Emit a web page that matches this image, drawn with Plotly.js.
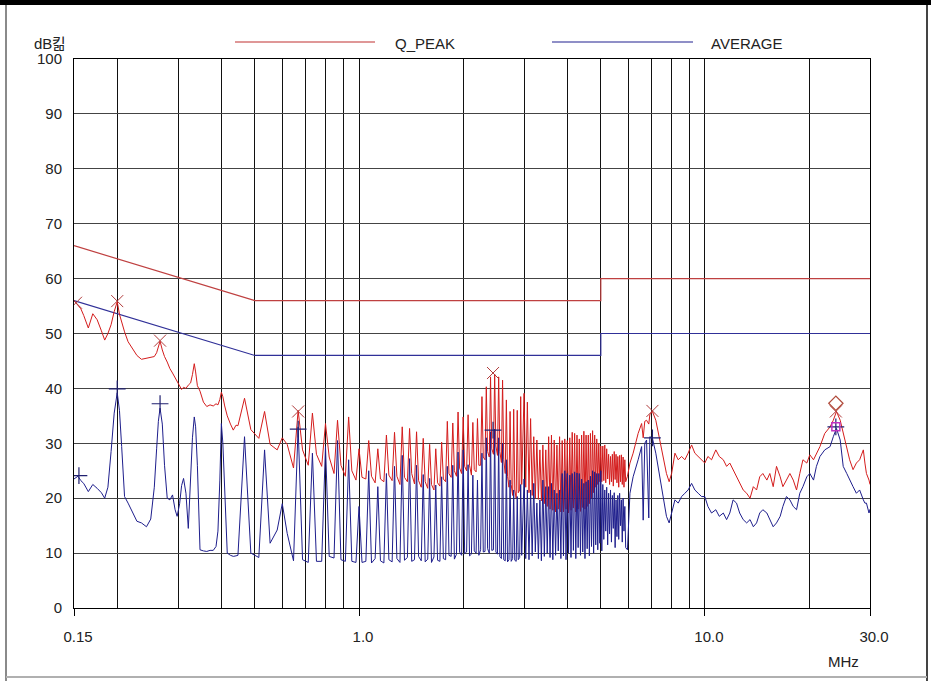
<!DOCTYPE html>
<html>
<head>
<meta charset="utf-8">
<script src="https://cdn.plot.ly/plotly-3.0.1.min.js"></script>
<style>html,body{margin:0;padding:0;background:#fff;}#chart{width:931px;height:681px;}</style>
</head>
<body>
<div id="chart"></div>
<script>
// ---- frequency points (MHz) ----
const freqLow = [0.150,0.154,0.157,0.160,0.165,0.170,0.175,0.180,0.184,0.188,0.192,0.196,0.200,0.203,0.206,0.210,0.215,0.222,0.228,0.235,0.243,0.250,0.256,0.260,0.263,0.266,0.270,0.274,0.279,0.284,0.289,0.294,0.298,0.303,0.307,0.311,0.316,0.321,0.326,0.330,0.334,0.337,0.341,0.347,0.355,0.363,0.371,0.379,0.386,0.391,0.396,0.400,0.404,0.409,0.416,0.425,0.433,0.441];
const qpLow = [56,55,54.5,53.3,51,53.6,52.5,50.5,48.8,50,51.6,54,55.8,53.5,52,50.3,48.5,47,46,45.3,45.5,45.6,45.8,46.5,47.5,48.6,47,45.8,44.8,43.6,42.8,42,41.3,40.5,39.8,40.2,40,40.6,41,42.5,44.5,43,40.5,39.5,37.5,36.7,37,36.8,37.2,37,38,39.3,38.5,36.8,35,33.5,32.4,33.3];
const avLow = [23.5,24,23.2,22.7,21.2,22.5,21.8,21,20,22,28.5,35.5,39.2,36,29.4,20.3,19.1,17.3,15.8,15.5,14.8,16.2,22,29,34,36.4,33.5,26,20,19.7,20.6,17.9,16.7,19,22.3,23.6,20.9,14.5,23.3,31,34.8,33,26,10.6,10.4,10.3,10.5,10.5,11.2,14,23.3,33.6,30,20,10,9.6,9.4,9.5];

const freqComb = [0.4467,0.4667,0.4867,0.5133,0.5333,0.5533,0.5800,0.6000,0.6200,0.6467,0.6667,0.6867,0.7133,0.7333,0.7533,0.7800,0.8000,0.8200,0.8467,0.8667,0.8867,0.9133,0.9333,0.9533,0.9800,1.0000,1.0200,1.0467,1.0667,1.0867,1.1133,1.1333,1.1533,1.1800,1.2000,1.2200,1.2467,1.2667,1.2867,1.3133,1.3333,1.3533,1.3800,1.4000,1.4200,1.4467,1.4667,1.4867,1.5133,1.5333,1.5533,1.5800,1.6000,1.6200,1.6467,1.6667,1.6867,1.7133,1.7333,1.7533,1.7800,1.8000,1.8200,1.8467,1.8667,1.8867,1.9133,1.9333,1.9533,1.9800,2.0000,2.0200,2.0467,2.0667,2.0867,2.1133,2.1333,2.1533,2.1800,2.2000,2.2200,2.2467,2.2667,2.2867,2.3133,2.3333,2.3533,2.3800,2.4000,2.4200,2.4467,2.4667,2.4867,2.5133,2.5333,2.5533,2.5800,2.6000,2.6200,2.6467,2.6667,2.6867,2.7133,2.7333,2.7533,2.7800,2.8000,2.8200,2.8467,2.8667,2.8867,2.9133,2.9333,2.9533];
const qpComb = [33.2,38.2,32.5,30.9,35.8,29.8,28.8,31.0,29.8,25.5,36.0,28.8,26.0,35.5,28.0,25.8,33.6,27.5,24.5,34.2,26.0,24.0,34.8,25.0,23.3,29.0,23.8,23.5,30.5,24.0,22.8,29.0,23.5,23.0,31.5,24.2,23.2,32.0,24.0,22.5,33.0,23.8,23.0,32.7,24.5,22.6,32.1,23.2,22.0,30.9,23.0,21.8,29.8,22.5,21.5,29.0,22.8,22.2,30.2,23.5,23.0,34.0,24.5,23.8,33.7,25.0,24.0,35.7,25.5,24.5,34.8,25.8,25.0,35.2,26.0,24.2,33.8,25.2,24.8,34.5,26.0,26.0,38.5,27.5,27.0,40.3,28.5,27.5,42.1,29.0,28.0,42.6,29.5,27.8,42.1,28.5,26.5,41.5,27.0,24.5,37.9,24.0,22.0,35.8,22.5,20.5,36.2,21.5,20.0,36.0,21.0,21.5,38.5,22.5];
const avComb = [9.6,31.2,10.0,9.2,28.8,11.8,14.2,19.0,13.6,8.6,33.0,8.8,8.3,28.2,8.5,8.5,29.4,9.4,9.1,30.5,8.8,8.5,27.0,8.5,8.3,18.5,8.3,8.5,25.0,8.2,9.0,22.1,8.6,8.2,24.5,8.8,8.4,25.8,9.0,8.3,27.8,8.7,9.2,27.2,8.5,8.8,26.0,9.4,8.6,24.3,8.4,8.9,23.6,8.3,9.3,22.4,8.7,8.5,23.9,9.0,8.8,25.8,9.6,9.4,26.0,8.9,9.8,28.4,10.2,9.6,28.8,9.9,10.2,26.1,9.5,9.8,24.2,10.4,10.0,23.3,9.6,10.6,28.2,10.2,10.3,31.0,10.8,10.0,32.1,10.5,10.6,32.6,10.2,9.8,31.0,9.4,9.0,30.0,8.8,8.6,27.0,8.4,8.8,23.3,8.5,9.0,21.5,8.7,8.5,20.3,8.8,9.2,22.5,9.6];

const freqDense = [3.0000,3.0333,3.0667,3.1000,3.1333,3.1667,3.2000,3.2333,3.2667,3.3000,3.3333,3.3667,3.4000,3.4333,3.4667,3.5000,3.5333,3.5667,3.6000,3.6333,3.6667,3.7000,3.7333,3.7667,3.8000,3.8333,3.8667,3.9000,3.9333,3.9667,4.0000,4.0333,4.0667,4.1000,4.1333,4.1667,4.2000,4.2333,4.2667,4.3000,4.3333,4.3667,4.4000,4.4333,4.4667,4.5000,4.5333,4.5667,4.6000,4.6333,4.6667,4.7000,4.7333,4.7667,4.8000,4.8333,4.8667,4.9000,4.9333,4.9667,5.0000,5.0333,5.0667,5.1000,5.1333,5.1667,5.2000,5.2333,5.2667,5.3000,5.3333,5.3667,5.4000,5.4333,5.4667,5.5000,5.5333,5.5667,5.6000,5.6333,5.6667,5.7000,5.7333,5.7667,5.8000,5.8333,5.8667,5.9000];
const qpDense = [39.1,22.0,37.5,21.0,34.5,20.5,31.2,20.0,30.6,19.8,28.8,19.5,29.7,19.0,28.8,18.5,31.2,18.0,31.5,17.8,30.6,17.5,29.7,18.0,31.2,17.5,30.5,17.5,30.8,18.0,30.5,17.3,31.0,17.8,32.0,18.2,31.8,17.5,31.5,18.0,30.8,17.6,31.5,18.3,32.2,18.0,31.5,18.5,31.5,19.0,31.8,20.0,32.3,21.0,31.5,22.0,30.8,22.5,30.0,23.0,29.5,23.0,29.5,23.2,29.7,22.8,29.0,23.5,28.0,22.5,27.6,23.0,28.0,22.2,28.5,23.4,28.0,22.8,27.6,22.0,27.8,23.0,27.9,22.5,27.5,22.0,27.0,23.0];
const avDense = [23.5,9.0,21.5,8.8,21.5,9.5,22.7,10.2,19.1,9.0,19.7,8.6,23.3,9.4,22.1,10.0,22.1,9.2,22.7,8.8,21.5,9.6,20.9,10.4,21.5,9.0,24.5,9.5,25.0,8.8,24.5,10.0,24.2,9.2,24.5,10.5,24.8,9.0,24.6,11.0,24.5,9.6,23.5,10.2,22.7,9.0,23.0,10.8,23.3,9.5,24.0,11.2,25.0,10.0,24.8,11.5,24.5,10.6,24.5,11.8,25.0,10.4,22.5,12.5,21.5,14.0,22.0,11.5,20.9,13.5,21.5,12.0,20.5,14.5,21.0,11.0,19.7,13.0,20.5,12.5,20.9,15.0,19.7,12.0,20.0,14.0,18.5,11.0];

const freqHigh = [5.97,6.07,6.20,6.41,6.56,6.63,6.70,6.78,6.88,6.93,7.05,7.21,7.37,7.57,7.74,7.88,8.01,8.19,8.37,8.56,8.75,8.94,9.15,9.35,9.56,9.78,9.99,10.2,10.45,10.75,11.0,11.3,11.55,11.8,12.06,12.34,12.6,12.9,13.2,13.5,13.8,14.1,14.4,14.7,15.1,15.4,15.75,16.1,16.5,16.8,17.2,17.6,18.0,18.4,18.8,19.2,19.7,20.1,20.6,21.0,21.5,22.2,23.0,23.5,24.0,24.6,25.1,25.7,26.2,26.8,27.4,28.0,28.7,29.0,29.3,29.8,30.0];
const qpHigh = [24.0,26.4,28.2,31.8,33.6,31.0,34.0,34.2,33.5,35.2,35.8,34.2,31.2,27.6,24.5,23.0,24.5,28.2,27.0,27.6,27.0,28.2,29.7,28.2,27.6,27.0,26.4,27.6,27.0,28.8,27.6,27.0,25.8,26.4,25.2,23.9,22.7,21.5,20.9,20.0,22.1,21.5,23.9,24.5,23.3,24.5,22.1,25.8,23.9,22.1,23.3,24.5,23.3,21.5,24.5,27.0,26.4,27.9,27.0,28.0,29.4,31.8,33.0,34.2,35.8,34.2,31.8,29.4,27.0,25.2,26.4,27.0,28.8,26.4,24.5,23.3,22.5];
const avHigh = [10.6,20.9,23.9,27.0,29.4,16.0,30.0,30.6,16.4,31.2,30.9,28.2,24.5,19.7,16.7,15.5,17.3,19.7,19.1,20.3,20.9,21.5,22.7,21.5,20.9,20.3,20.3,18.5,17.3,17.9,16.7,17.3,16.1,17.3,19.7,19.1,17.3,16.1,15.5,16.1,14.8,15.5,17.3,17.9,17.3,16.1,14.8,15.5,16.7,18.5,20.3,19.7,18.5,17.9,20.9,22.1,23.9,24.5,23.3,25.8,27.6,28.8,29.4,31.2,32.7,30.6,25.8,24.5,23.3,22.1,20.9,21.5,19.7,19.1,19.1,17.3,18.0];

// ---- limit lines ----
const limitFreq = [0.15, 0.5, 5, 5, 30];
const qpLimit = [66, 56, 56, 60, 60];
const avLimit = [56, 46, 46, 50, 50];

// ---- peak markers ----
const qpMarkFreq = [0.152, 0.200, 0.266, 0.667, 2.44, 7.05, 23.9];
const qpMarkLevel = [55.6, 55.9, 48.7, 35.8, 42.8, 35.9, 35.8];
const avMarkFreq = [0.155, 0.200, 0.266, 0.667, 2.44, 7.05, 23.9];
const avMarkLevel = [24.1, 39.9, 37.2, 32.6, 32.4, 31.0, 33.0];
const diamondFreq = [23.9];
const diamondLevel = [37.3];
const squareFreq = [23.9];
const squareLevel = [33.0];

// ---- axis ticks ----
const xTickVals = [0.15, 1, 10, 30];
const xTickText = ['0.15', '1.0', '10.0', '30.0'];
const xMinorGrid = [0.2,0.3,0.4,0.5,0.6,0.7,0.8,0.9,2,3,4,5,6,7,8,9,20];
const yTickVals = [0,10,20,30,40,50,60,70,80,90,100];

const freq = freqLow.concat(freqComb, freqDense, freqHigh);
const qPeak = qpLow.concat(qpComb, qpDense, qpHigh);
const average = avLow.concat(avComb, avDense, avHigh);

const FONT = 'Liberation Sans, Arial, Noto Sans CJK KR, sans-serif';
const QP_COLOR = '#d41c1c';
const AV_COLOR = '#1e1e8c';

const traces = [
  {x: limitFreq, y: qpLimit, mode: 'lines', line: {color: '#bf4040', width: 1.2}, hoverinfo: 'skip'},
  {x: limitFreq, y: avLimit, mode: 'lines', line: {color: '#303098', width: 1.2}, hoverinfo: 'skip'},
  {x: freq, y: qPeak, mode: 'lines', line: {color: QP_COLOR, width: 1}},
  {x: freq, y: average, mode: 'lines', line: {color: AV_COLOR, width: 1}},
  {x: qpMarkFreq, y: qpMarkLevel, mode: 'markers', marker: {symbol: 'x-thin', size: 12, line: {color: '#b03a3a', width: 1}}},
  {x: avMarkFreq, y: avMarkLevel, mode: 'markers', marker: {symbol: 'cross-thin', size: 12, line: {color: '#202070', width: 1.2}}},
  {x: diamondFreq, y: diamondLevel, mode: 'markers', marker: {symbol: 'diamond-open', size: 11, color: '#b04a3a', line: {width: 1.2}}},
  {x: squareFreq, y: squareLevel, mode: 'markers', marker: {symbol: 'square-open', size: 8, color: '#c030c0', line: {width: 1.5}}}
];

function px2x(px) { return (px - 74) / 796; }
function py2y(py) { return (608 - py) / 549; }

const shapes = [
  // legend samples
  {type: 'line', xref: 'paper', yref: 'paper', x0: px2x(235), x1: px2x(375), y0: py2y(42), y1: py2y(42), line: {color: '#c03030', width: 1.2}},
  {type: 'line', xref: 'paper', yref: 'paper', x0: px2x(552), x1: px2x(693), y0: py2y(42), y1: py2y(42), line: {color: '#202090', width: 1.2}},
  // outer frame
  {type: 'rect', xref: 'paper', yref: 'paper', x0: px2x(0), x1: px2x(931), y0: py2y(5), y1: py2y(0), fillcolor: '#000', line: {width: 0}},
  {type: 'line', xref: 'paper', yref: 'paper', x0: px2x(6), x1: px2x(6), y0: py2y(5), y1: py2y(681), line: {color: '#8a8a8a', width: 2}},
  {type: 'line', xref: 'paper', yref: 'paper', x0: px2x(927), x1: px2x(927), y0: py2y(5), y1: py2y(681), line: {color: '#444', width: 2}},
  {type: 'line', xref: 'paper', yref: 'paper', x0: px2x(6), x1: px2x(927), y0: py2y(677), y1: py2y(677), line: {color: '#b0b0b0', width: 2}}
];

const annotations = [
  {xref: 'paper', yref: 'paper', x: px2x(393), y: py2y(43), text: 'Q_PEAK', showarrow: false, xanchor: 'left', yanchor: 'middle', font: {family: FONT, size: 15, color: '#222'}},
  {xref: 'paper', yref: 'paper', x: px2x(709), y: py2y(43), text: 'AVERAGE', showarrow: false, xanchor: 'left', yanchor: 'middle', font: {family: FONT, size: 15, color: '#222'}},
  {xref: 'paper', yref: 'paper', x: px2x(32), y: py2y(43), text: 'dB킮', showarrow: false, xanchor: 'left', yanchor: 'middle', font: {family: FONT, size: 15, color: '#222'}},
  {xref: 'paper', yref: 'paper', x: px2x(843), y: py2y(661), text: 'MHz', showarrow: false, xanchor: 'center', yanchor: 'middle', font: {family: FONT, size: 15, color: '#222'}}
];

const layout = {
  width: 931, height: 681,
  margin: {l: 74, r: 61, t: 59, b: 73},
  paper_bgcolor: '#fff', plot_bgcolor: '#fff',
  showlegend: false,
  font: {family: FONT, size: 15, color: '#222'},
  xaxis: {
    type: 'log', range: [Math.log10(0.15), Math.log10(30)],
    tickmode: 'array', tickvals: xTickVals, ticktext: xTickText,
    ticks: 'outside', ticklen: 7, tickcolor: '#000', tickwidth: 1,
    ticklabelstandoff: 8, ticklabelshift: 4,
    showgrid: true, gridcolor: '#111', gridwidth: 1,
    minor: {tickmode: 'array', tickvals: xMinorGrid, showgrid: true, gridcolor: '#111', gridwidth: 1, ticks: ''},
    showline: true, linecolor: '#000', linewidth: 1, mirror: true,
    zeroline: false, tickfont: {family: FONT, size: 15, color: '#222'}
  },
  yaxis: {
    range: [0, 100], tickmode: 'array', tickvals: yTickVals,
    ticks: '', ticklabelstandoff: 8,
    showgrid: true, gridcolor: '#444', gridwidth: 1,
    showline: true, linecolor: '#000', linewidth: 1, mirror: true,
    zeroline: false, tickfont: {family: FONT, size: 15, color: '#222'}
  },
  shapes: shapes,
  annotations: annotations
};

Plotly.newPlot('chart', traces, layout, {displayModeBar: false, staticPlot: true});
</script>
</body>
</html>
